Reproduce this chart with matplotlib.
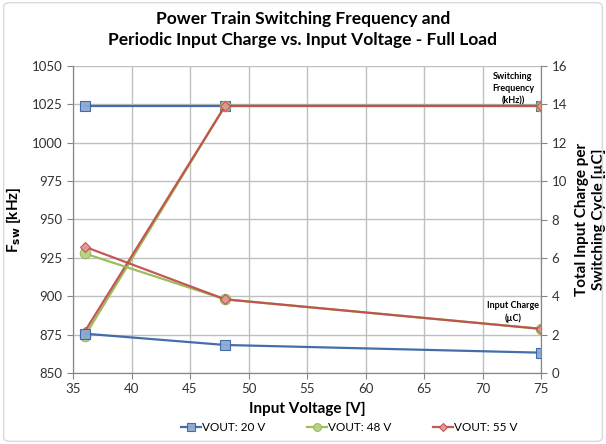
import matplotlib.pyplot as plt
from matplotlib.patches import FancyBboxPatch

plt.rcParams['font.family'] = ['Lato', 'DejaVu Sans']

# Данные
vin = [36, 48, 75]

# Частота переключения, кГц (левая ось)
fsw_20 = [1024, 1024, 1024]
fsw_48 = [874, 1024, 1024]
fsw_55 = [877, 1024, 1024]

# Заряд на входе за цикл, мкКл (правая ось)
q_20 = [2.05, 1.46, 1.06]
q_48 = [6.23, 3.84, 2.30]
q_55 = [6.58, 3.84, 2.30]

labels = ['VOUT: 20 V', 'VOUT: 48 V', 'VOUT: 55 V']

blue = '#3A66A6'
green = '#98B954'
red = '#C0504D'

fig = plt.figure(figsize=(6.06, 4.44), dpi=100)
ax = fig.add_axes([73 / 606, 1 - 373 / 444, 468 / 606, 307 / 444])
ax2 = ax.twinx()

# рамка вокруг графика
fig.patches.append(FancyBboxPatch((0.006, 0.006), 0.988, 0.988, boxstyle='round,pad=0,rounding_size=0.01',
                                  transform=fig.transFigure, fill=False, edgecolor='#D9D9D9', lw=1))

styles = [(blue, 's', '#8EA9D3', 7), (green, 'o', '#B8D08A', 7.5), (red, 'D', '#E29A98', 5.5)]
freqs = [fsw_20, fsw_48, fsw_55]
charges = [q_20, q_48, q_55]

handles = []
for f, q, (c, m, fc, ms), lab in zip(freqs, charges, styles, labels):
    h, = ax.plot(vin, f, color=c, lw=1.6, marker=m, ms=ms, mfc=fc, mec=c, mew=0.8, alpha=0.95, label=lab)
    ax2.plot(vin, q, color=c, lw=1.6, marker=m, ms=ms, mfc=fc, mec=c, mew=0.8, alpha=0.95)
    handles.append(h)

ax.set_xlim(35, 75)
ax.set_ylim(850, 1050)
ax.set_xticks(range(35, 76, 5))
ax.set_yticks(range(850, 1051, 25))
ax2.set_ylim(0, 16)
ax2.set_yticks(range(0, 17, 2))

ax.grid(True, color='#BFBFBF', lw=1)
ax.set_axisbelow(True)
for a in (ax, ax2):
    a.tick_params(labelsize=9.5, colors='#333333', length=4, color='#868686')
    for s in a.spines.values():
        s.set_color('#868686')
    a.spines['top'].set_visible(False)

ax.set_xlabel('Input Voltage [V]', fontsize=11, fontweight='bold', labelpad=5)
ax.set_ylabel('F$_{\\mathbf{sw}}$ [kHz]', fontsize=11, fontweight='bold', labelpad=6)
ax2.set_ylabel('Total Input Charge per\nSwitching Cycle [µC]', fontsize=11, fontweight='bold', labelpad=6)

fig.suptitle('Power Train Switching Frequency and\nPeriodic Input Charge vs. Input Voltage - Full Load',
             fontsize=12.5, fontweight='bold', y=0.975, linespacing=1.4)

# подписи серий
ax.text(72.6, 1046, 'Switching\nFrequency\n(kHz))', fontsize=6.5, fontweight='bold', ha='center', va='top',
        linespacing=1.45)
ax.text(72.6, 897, 'Input Charge\n(µC)', fontsize=6.5, fontweight='bold', ha='center', va='top', linespacing=1.45)

fig.legend(handles=handles, loc='lower left', ncol=3, frameon=False, fontsize=8.5,
           bbox_to_anchor=(170 / 606, 0.0),
           handlelength=1.7, columnspacing=3.5, handletextpad=0.1, markerscale=0.75)

plt.savefig('out.png', dpi=100)
